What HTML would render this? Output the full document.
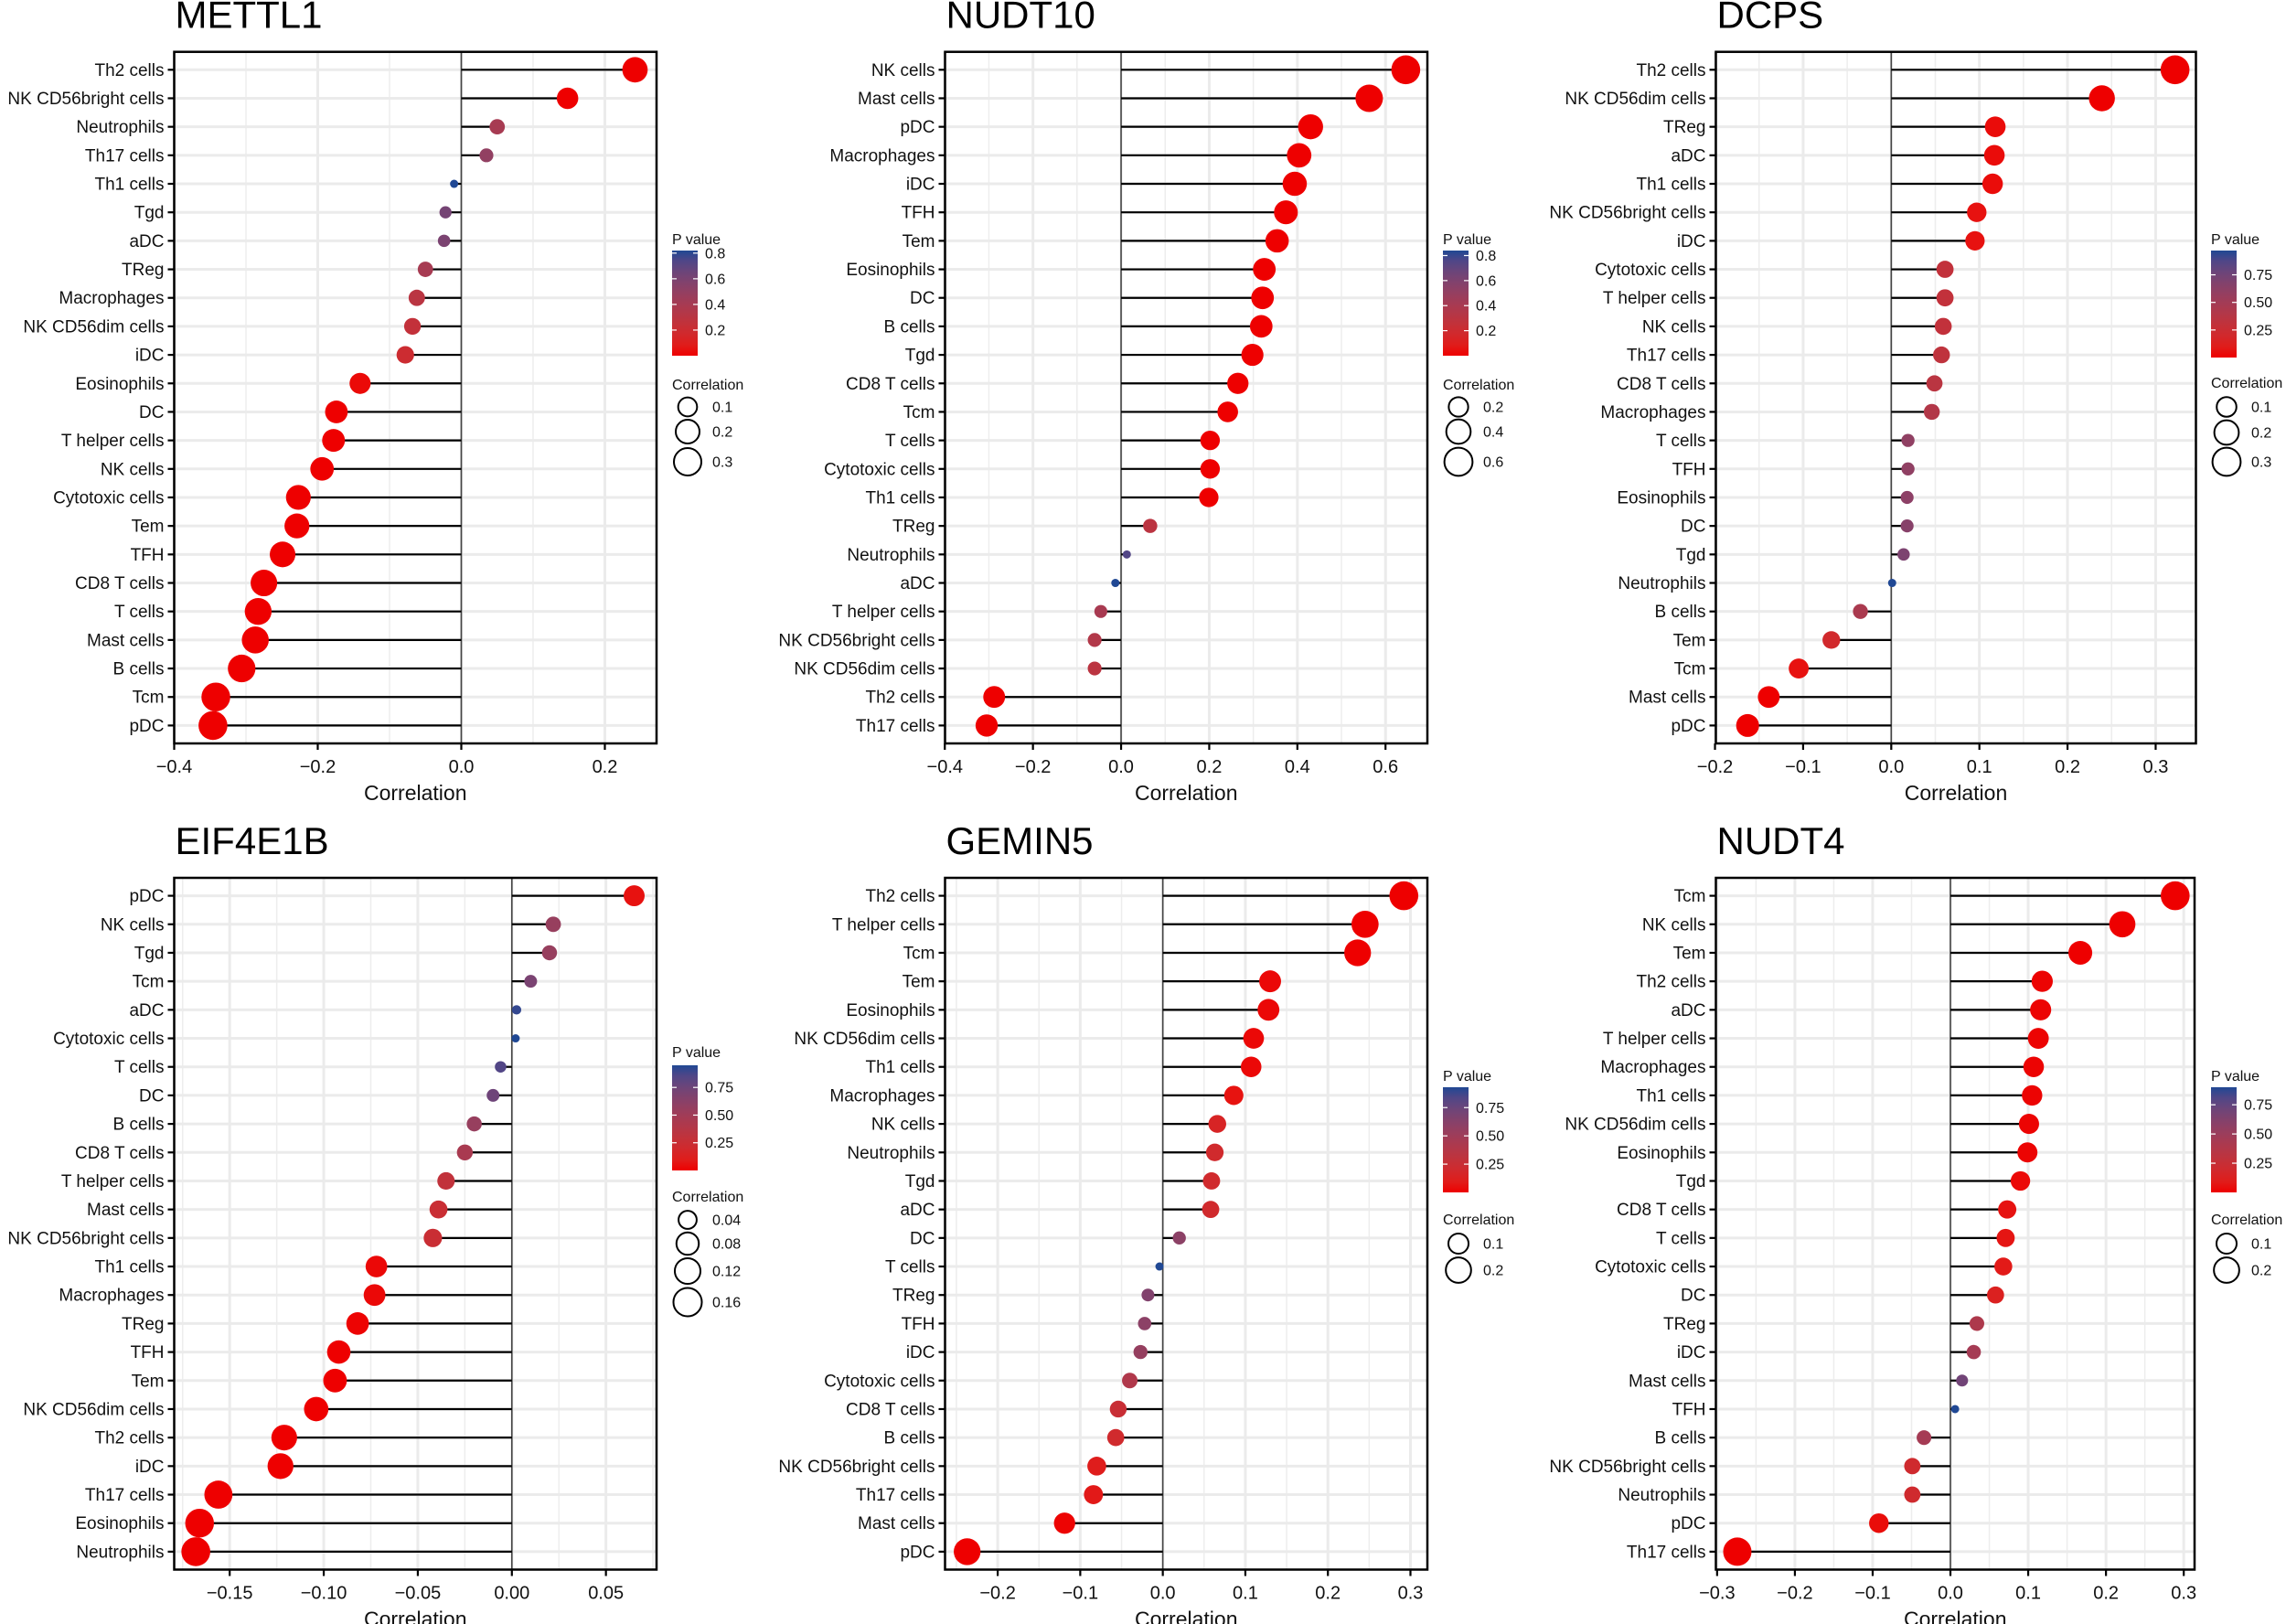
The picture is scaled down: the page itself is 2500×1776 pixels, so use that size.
<!DOCTYPE html>
<html><head><meta charset="utf-8"><title>Immune correlation lollipop charts</title>
<style>
html,body{margin:0;padding:0;background:#fff;}
svg{display:block;font-family:"Liberation Sans",Arial,sans-serif;}
</style></head>
<body>
<svg id="fig" width="2500" height="1776" viewBox="0 0 2500 1776" xmlns="http://www.w3.org/2000/svg"></svg>
<script>
// ---------- DATA ----------
const p1Title = "METTL1";
const p1Cells = ["Th2 cells","NK CD56bright cells","Neutrophils","Th17 cells","Th1 cells","Tgd","aDC","TReg","Macrophages","NK CD56dim cells","iDC","Eosinophils","DC","T helper cells","NK cells","Cytotoxic cells","Tem","TFH","CD8 T cells","T cells","Mast cells","B cells","Tcm","pDC"];
const p1Corr = [0.242,0.148,0.05,0.035,-0.01,-0.022,-0.024,-0.05,-0.062,-0.068,-0.078,-0.141,-0.174,-0.178,-0.194,-0.227,-0.229,-0.249,-0.275,-0.283,-0.287,-0.306,-0.342,-0.346];
const p1P = [0,0,0.4,0.5,0.82,0.62,0.6,0.4,0.3,0.25,0.2,0.02,0,0,0,0,0,0,0,0,0,0,0,0];
const p1Ticks = [-0.4,-0.2,0.0,0.2];
const p1TickLabels = ["\u22120.4","\u22120.2","0.0","0.2"];
const p1PTicks = [0.2,0.4,0.6,0.8];
const p1SizeLegend = [0.1,0.2,0.3];

const p2Title = "NUDT10";
const p2Cells = ["NK cells","Mast cells","pDC","Macrophages","iDC","TFH","Tem","Eosinophils","DC","B cells","Tgd","CD8 T cells","Tcm","T cells","Cytotoxic cells","Th1 cells","TReg","Neutrophils","aDC","T helper cells","NK CD56bright cells","NK CD56dim cells","Th2 cells","Th17 cells"];
const p2Corr = [0.646,0.563,0.43,0.404,0.394,0.374,0.354,0.325,0.321,0.318,0.298,0.265,0.242,0.202,0.202,0.199,0.066,0.013,-0.013,-0.046,-0.06,-0.06,-0.288,-0.305];
const p2P = [0,0,0,0,0,0,0,0,0,0,0,0,0,0,0,0,0.3,0.75,0.84,0.4,0.35,0.3,0,0];
const p2Ticks = [-0.4,-0.2,0.0,0.2,0.4,0.6];
const p2TickLabels = ["\u22120.4","\u22120.2","0.0","0.2","0.4","0.6"];
const p2PTicks = [0.2,0.4,0.6,0.8];
const p2SizeLegend = [0.2,0.4,0.6];

const p3Title = "DCPS";
const p3Cells = ["Th2 cells","NK CD56dim cells","TReg","aDC","Th1 cells","NK CD56bright cells","iDC","Cytotoxic cells","T helper cells","NK cells","Th17 cells","CD8 T cells","Macrophages","T cells","TFH","Eosinophils","DC","Tgd","Neutrophils","B cells","Tem","Tcm","Mast cells","pDC"];
const p3Corr = [0.322,0.239,0.118,0.117,0.115,0.097,0.095,0.061,0.061,0.059,0.057,0.049,0.046,0.019,0.019,0.018,0.018,0.014,0.001,-0.035,-0.068,-0.105,-0.139,-0.163];
const p3P = [0,0,0.03,0.03,0.03,0.05,0.05,0.3,0.3,0.3,0.32,0.35,0.4,0.6,0.6,0.62,0.65,0.7,0.97,0.45,0.2,0.05,0,0];
const p3Ticks = [-0.2,-0.1,0.0,0.1,0.2,0.3];
const p3TickLabels = ["\u22120.2","\u22120.1","0.0","0.1","0.2","0.3"];
const p3PTicks = [0.25,0.5,0.75];
const p3SizeLegend = [0.1,0.2,0.3];

const p4Title = "EIF4E1B";
const p4Cells = ["pDC","NK cells","Tgd","Tcm","aDC","Cytotoxic cells","T cells","DC","B cells","CD8 T cells","T helper cells","Mast cells","NK CD56bright cells","Th1 cells","Macrophages","TReg","TFH","Tem","NK CD56dim cells","Th2 cells","iDC","Th17 cells","Eosinophils","Neutrophils"];
const p4Corr = [0.065,0.022,0.02,0.01,0.0025,0.002,-0.006,-0.01,-0.02,-0.025,-0.035,-0.039,-0.042,-0.072,-0.073,-0.082,-0.092,-0.094,-0.104,-0.121,-0.123,-0.156,-0.166,-0.168];
const p4P = [0.05,0.55,0.55,0.7,0.92,0.95,0.85,0.75,0.55,0.45,0.3,0.25,0.25,0.02,0.02,0.01,0,0,0,0,0,0,0,0];
const p4Ticks = [-0.15,-0.10,-0.05,0.00,0.05];
const p4TickLabels = ["\u22120.15","\u22120.10","\u22120.05","0.00","0.05"];
const p4PTicks = [0.25,0.5,0.75];
const p4SizeLegend = [0.04,0.08,0.12,0.16];

const p5Title = "GEMIN5";
const p5Cells = ["Th2 cells","T helper cells","Tcm","Tem","Eosinophils","NK CD56dim cells","Th1 cells","Macrophages","NK cells","Neutrophils","Tgd","aDC","DC","T cells","TReg","TFH","iDC","Cytotoxic cells","CD8 T cells","B cells","NK CD56bright cells","Th17 cells","Mast cells","pDC"];
const p5Corr = [0.292,0.245,0.236,0.13,0.128,0.11,0.107,0.086,0.066,0.063,0.059,0.058,0.02,-0.004,-0.018,-0.022,-0.027,-0.04,-0.054,-0.057,-0.08,-0.084,-0.119,-0.237];
const p5P = [0,0,0,0.02,0.02,0.02,0.02,0.05,0.15,0.2,0.2,0.2,0.6,0.93,0.65,0.6,0.55,0.4,0.25,0.2,0.1,0.08,0.01,0];
const p5Ticks = [-0.2,-0.1,0.0,0.1,0.2,0.3];
const p5TickLabels = ["\u22120.2","\u22120.1","0.0","0.1","0.2","0.3"];
const p5PTicks = [0.25,0.5,0.75];
const p5SizeLegend = [0.1,0.2];

const p6Title = "NUDT4";
const p6Cells = ["Tcm","NK cells","Tem","Th2 cells","aDC","T helper cells","Macrophages","Th1 cells","NK CD56dim cells","Eosinophils","Tgd","CD8 T cells","T cells","Cytotoxic cells","DC","TReg","iDC","Mast cells","TFH","B cells","NK CD56bright cells","Neutrophils","pDC","Th17 cells"];
const p6Corr = [0.289,0.221,0.167,0.118,0.116,0.113,0.107,0.105,0.101,0.099,0.09,0.073,0.071,0.068,0.058,0.034,0.03,0.015,0.006,-0.034,-0.049,-0.049,-0.092,-0.274];
const p6P = [0,0,0,0.01,0.01,0.01,0.01,0.01,0.01,0.01,0.02,0.05,0.06,0.08,0.12,0.4,0.45,0.7,0.9,0.45,0.2,0.2,0.03,0];
const p6Ticks = [-0.3,-0.2,-0.1,0.0,0.1,0.2,0.3];
const p6TickLabels = ["\u22120.3","\u22120.2","\u22120.1","0.0","0.1","0.2","0.3"];
const p6PTicks = [0.25,0.5,0.75];
const p6SizeLegend = [0.1,0.2];

// ---------- LAYOUT ----------
const NS = "http://www.w3.org/2000/svg";
const svg = document.getElementById("fig");
function mk(tag, attrs, parent){
  const e = document.createElementNS(NS, tag);
  for (const k in attrs) e.setAttribute(k, attrs[k]);
  (parent||svg).appendChild(e);
  return e;
}
// Lab interpolation (like ggplot gradient)
function srgb2lin(c){ c/=255; return c<=0.04045? c/12.92 : Math.pow((c+0.055)/1.055,2.4); }
function lin2srgb(c){ c = c<=0.0031308? 12.92*c : 1.055*Math.pow(c,1/2.4)-0.055; return Math.max(0,Math.min(255,Math.round(c*255))); }
function rgb2lab(rgb){
  const [r,g,b] = rgb.map(srgb2lin);
  let x=(0.4124*r+0.3576*g+0.1805*b)/0.95047, y=(0.2126*r+0.7152*g+0.0722*b), z=(0.0193*r+0.1192*g+0.9505*b)/1.08883;
  const f=t=>t>0.008856?Math.cbrt(t):7.787*t+16/116;
  const fx=f(x),fy=f(y),fz=f(z);
  return [116*fy-16, 500*(fx-fy), 200*(fy-fz)];
}
function lab2rgb(lab){
  const fy=(lab[0]+16)/116, fx=fy+lab[1]/500, fz=fy-lab[2]/200;
  const fi=t=>t*t*t>0.008856?t*t*t:(t-16/116)/7.787;
  const x=fi(fx)*0.95047, y=fi(fy), z=fi(fz)*1.08883;
  const r=3.2406*x-1.5372*y-0.4986*z, g=-0.9689*x+1.8758*y+0.0415*z, b=0.0557*x-0.2040*y+1.0570*z;
  return [lin2srgb(r),lin2srgb(g),lin2srgb(b)];
}
const LAB_LO = rgb2lab([238,0,0]), LAB_HI = rgb2lab([32,72,148]);
function colorFor(p, pmax){
  const t = Math.max(0, Math.min(1, p / pmax));
  const lab = LAB_LO.map((v,i)=>v+(LAB_HI[i]-v)*t);
  return "rgb(" + lab2rgb(lab).join(",") + ")";
}

const panels = [
  {title:p1Title,cells:p1Cells,corr:p1Corr,p:p1P,ticks:p1Ticks,tl:p1TickLabels,pt:p1PTicks,sl:p1SizeLegend,
   x0:190.5,x1:718,y0:56.7,y1:813,dmin:-0.4,dmax:0.272,pmax:0.82,leg:{x:735,ty:262,bt:274,bb:389,ct:421,cy:[445,472,505]}},
  {title:p2Title,cells:p2Cells,corr:p2Corr,p:p2P,ticks:p2Ticks,tl:p2TickLabels,pt:p2PTicks,sl:p2SizeLegend,
   x0:1033.5,x1:1561,y0:56.7,y1:813,dmin:-0.3995,dmax:0.695,pmax:0.84,leg:{x:1578,ty:262,bt:274,bb:389,ct:421,cy:[445,472,505]}},
  {title:p3Title,cells:p3Cells,corr:p3Corr,p:p3P,ticks:p3Ticks,tl:p3TickLabels,pt:p3PTicks,sl:p3SizeLegend,
   x0:1876.5,x1:2401.5,y0:56.7,y1:813,dmin:-0.199,dmax:0.3457,pmax:0.97,leg:{x:2418,ty:262,bt:274,bb:391,ct:419,cy:[445,473,505]}},
  {title:p4Title,cells:p4Cells,corr:p4Corr,p:p4P,ticks:p4Ticks,tl:p4TickLabels,pt:p4PTicks,sl:p4SizeLegend,
   x0:190.5,x1:718,y0:960,y1:1716.5,dmin:-0.1795,dmax:0.0769,pmax:0.95,leg:{x:735,ty:1151,bt:1165,bb:1280,ct:1309,cy:[1334,1360,1390,1424]}},
  {title:p5Title,cells:p5Cells,corr:p5Corr,p:p5P,ticks:p5Ticks,tl:p5TickLabels,pt:p5PTicks,sl:p5SizeLegend,
   x0:1033.5,x1:1561,y0:960,y1:1716.5,dmin:-0.2638,dmax:0.3205,pmax:0.93,leg:{x:1578,ty:1177,bt:1189,bb:1304,ct:1334,cy:[1360,1389]}},
  {title:p6Title,cells:p6Cells,corr:p6Corr,p:p6P,ticks:p6Ticks,tl:p6TickLabels,pt:p6PTicks,sl:p6SizeLegend,
   x0:1876.5,x1:2400,y0:960,y1:1716.5,dmin:-0.3016,dmax:0.3139,pmax:0.9,leg:{x:2418,ty:1177,bt:1189,bb:1304,ct:1334,cy:[1360,1389]}}
];

panels.forEach((P, pi) => {
  const g = mk("g", {});
  
  
  const xs = v => P.x0 + (v - P.dmin) / (P.dmax - P.dmin) * (P.x1 - P.x0);
  const n = P.cells.length;
  const rowGap = (P.y1 - P.y0 - 39.2) / (n - 1);
  const ys = i => P.y0 + 19.6 + i * rowGap;
  const absV = P.corr.map(Math.abs);
  const amin = Math.min(...absV), amax = Math.max(...absV);
  const rs = v => 4.5 + 11.3 * Math.sqrt((Math.abs(v) - amin) / (amax - amin));

  const t = mk("text", {x:P.x0 + 1, y:P.y0 - 26, "font-size":42, fill:"#000"}, g);
  t.textContent = P.title;
  
  

  const step = P.ticks[1] - P.ticks[0];
  for (let k = -1; k < P.ticks.length; k++) {
    const mv = P.ticks[0] + (k + 0.5) * step;
    if (mv > P.dmin && mv < P.dmax) {
      const gl = mk("line", {x1:xs(mv), x2:xs(mv), y1:P.y0, y2:P.y1, stroke:"#EDEDED", "stroke-width":1.5}, g);
      
      
    }
  }
  P.ticks.forEach(tv => {
    const gl = mk("line", {x1:xs(tv), x2:xs(tv), y1:P.y0, y2:P.y1, stroke:"#EBEBEB", "stroke-width":3}, g);
    
    
  });
  P.cells.forEach((c, i) => {
    const gl = mk("line", {x1:P.x0, x2:P.x1, y1:ys(i), y2:ys(i), stroke:"#EBEBEB", "stroke-width":3}, g);
    
    
  });
  const zl = mk("line", {x1:xs(0), x2:xs(0), y1:P.y0, y2:P.y1, stroke:"#444", "stroke-width":1.6}, g);
  
  

  P.cells.forEach((c, i) => {
    const seg = mk("line", {x1:xs(0), x2:xs(P.corr[i]), y1:ys(i), y2:ys(i), stroke:"#000", "stroke-width":2.2}, g);
    
    
  });
  P.cells.forEach((c, i) => {
    const dot = mk("circle", {cx:xs(P.corr[i]), cy:ys(i), r:rs(P.corr[i]), fill:colorFor(P.p[i], P.pmax)}, g);
    
    
  });

  const fr = mk("rect", {x:P.x0, y:P.y0, width:P.x1 - P.x0, height:P.y1 - P.y0, fill:"none", stroke:"#000", "stroke-width":2.5}, g);
  
  

  P.cells.forEach((c, i) => {
    const tk = mk("line", {x1:P.x0 - 7, x2:P.x0, y1:ys(i), y2:ys(i), stroke:"#000", "stroke-width":2.2}, g);
    
    
    const lb = mk("text", {x:P.x0 - 11, y:ys(i) + 6.5, "font-size":19, "text-anchor":"end", fill:"#111"}, g);
    lb.textContent = c;
    
    
  });
  P.ticks.forEach((tv, k) => {
    const tk = mk("line", {x1:xs(tv), x2:xs(tv), y1:P.y1, y2:P.y1 + 7, stroke:"#000", "stroke-width":2.2}, g);
    
    
    const lb = mk("text", {x:xs(tv), y:P.y1 + 32, "font-size":20, "text-anchor":"middle", fill:"#111"}, g);
    lb.textContent = P.tl[k];
    
    
  });
  const xt = mk("text", {x:(P.x0 + P.x1) / 2, y:P.y1 + 62, "font-size":23, "text-anchor":"middle", fill:"#111"}, g);
  xt.textContent = "Correlation";
  
  

  const L = P.leg;
  const lg = mk("g", {}, g);
  
  
  const pvt = mk("text", {x:L.x, y:L.ty + 5, "font-size":16, fill:"#111"}, lg);
  pvt.textContent = "P value";
  
  
  const gid = "grad" + pi;
  const defs = mk("defs", {}, lg);
  const lgd = mk("linearGradient", {id:gid, x1:0, y1:1, x2:0, y2:0}, defs);
  for (let s = 0; s <= 10; s++) mk("stop", {offset:(s*10)+"%", "stop-color":colorFor(P.pmax * s / 10, P.pmax)}, lgd);
  const bar = mk("rect", {x:L.x, y:L.bt, width:28, height:L.bb - L.bt, fill:"url(#" + gid + ")"}, lg);
  
  
  const py = v => L.bb - v / P.pmax * (L.bb - L.bt);
  P.pt.forEach(v => {
    if (v > P.pmax + 0.01) return;
    mk("line", {x1:L.x, x2:L.x + 5, y1:py(v), y2:py(v), stroke:"#fff", "stroke-width":1.2}, lg);
    mk("line", {x1:L.x + 23, x2:L.x + 28, y1:py(v), y2:py(v), stroke:"#fff", "stroke-width":1.2}, lg);
    const tl = mk("text", {x:L.x + 36, y:py(v) + 5.5, "font-size":16, fill:"#111"}, lg);
    tl.textContent = (P.pt[1] - P.pt[0] < 0.24) ? v.toFixed(1) : v.toFixed(2);
    
    
  });
  const ctl = mk("text", {x:L.x, y:L.ct + 5, "font-size":16, fill:"#111"}, lg);
  ctl.textContent = "Correlation";
  
  
  P.sl.forEach((v, k) => {
    const rr = 4.5 + 11.3 * Math.sqrt(Math.max(0, (v - amin) / (amax - amin)));
    const c = mk("circle", {cx:L.x + 17, cy:L.cy[k], r:rr, fill:"none", stroke:"#000", "stroke-width":2}, lg);
    
    
    const st = mk("text", {x:L.x + 44, y:L.cy[k] + 5.5, "font-size":16, fill:"#111"}, lg);
    st.textContent = String(v);
    
    
  });
});
</script>
</body></html>
